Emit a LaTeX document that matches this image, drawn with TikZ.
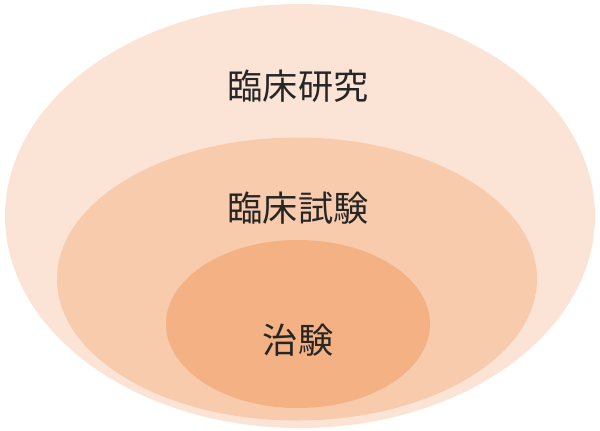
\documentclass[tikz,border=0pt]{standalone}
\usepackage{fontspec}
\newfontfamily\jpfont{Noto Sans CJK JP}[Scale=1]
\definecolor{outerfill}{HTML}{FBE4D6}
\definecolor{middlefill}{HTML}{F8CBAD}
\definecolor{innerfill}{HTML}{F4B183}
\tikzset{
  zone/.style={ellipse, draw=none, inner sep=0pt},
  zonelabel/.style={font=\jpfont\fontsize{25}{25}\selectfont, text=black!85}
}
\usetikzlibrary{shapes.geometric}
\begin{document}
\begin{tikzpicture}[x=0.025cm,y=-0.025cm]
        \useasboundingbox (0,0) rectangle (600,430);
        %% Zones
        \node[zone, fill=outerfill, minimum width=590*0.025cm, minimum height=424*0.025cm] (research) at (300,216) {};
        \node[zone, fill=middlefill, minimum width=480*0.025cm, minimum height=283*0.025cm] (trial) at (297,279) {};
        \node[zone, fill=innerfill, minimum width=264*0.025cm, minimum height=168*0.025cm] (chiken) at (298,324) {};
        %% Labels
        \node[zonelabel] (researchlabel) at (298,86) {臨床研究};
        \node[zonelabel] (triallabel) at (298,208) {臨床試験};
        \node[zonelabel] (chikenlabel) at (298,340) {治験};
\end{tikzpicture}
\end{document}
